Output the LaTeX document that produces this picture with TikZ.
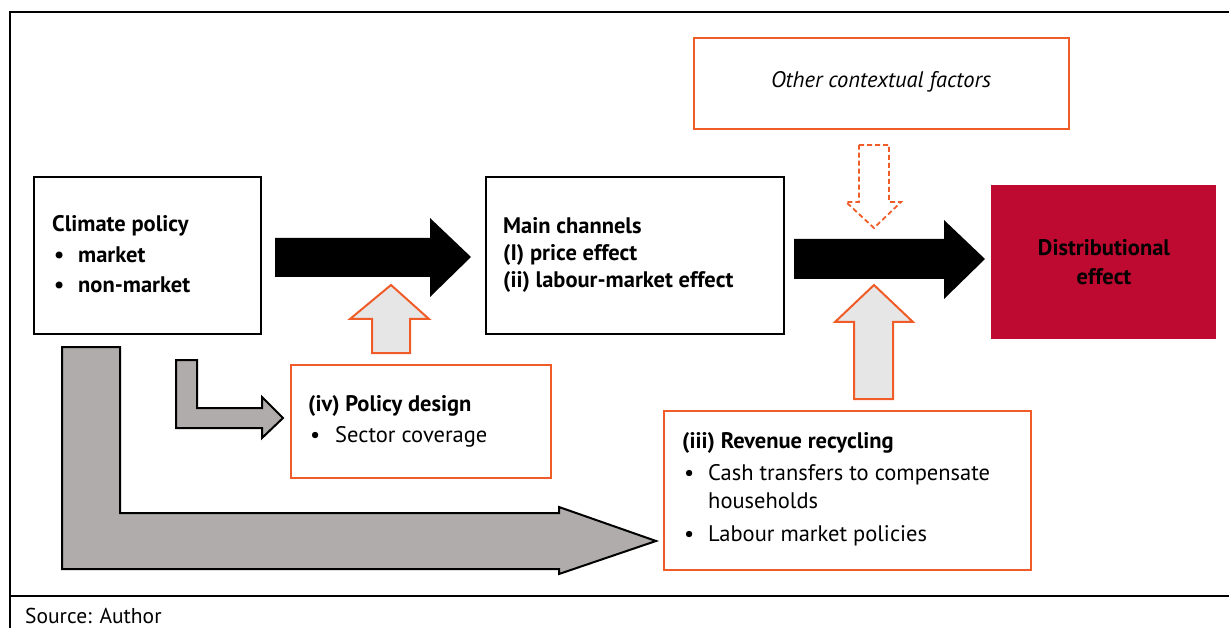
\documentclass[tikz,border=0pt]{standalone}
\usepackage{fontspec}
\setmainfont{PT Sans}
\definecolor{orng}{RGB}{240,92,40}
\definecolor{crim}{RGB}{190,10,48}
\definecolor{garrow}{RGB}{176,172,171}
\definecolor{lfill}{RGB}{230,230,230}
\tikzset{
  frame/.style={line width=2.5pt, black},
  blackbox/.style={draw=black, line width=2pt, fill=white, inner sep=0pt},
  orangebox/.style={draw=orng, line width=2pt, fill=white, inner sep=0pt},
  redbox/.style={fill=crim, inner sep=0pt},
  txt/.style={inner sep=0pt, font=\fontsize{22.5}{27}\selectfont},
  btxt/.style={inner sep=0pt, font=\fontsize{22.5}{27}\selectfont\bfseries},
  blackarrow/.style={fill=black},
  greyarrow/.style={fill=garrow, draw=black, line width=2pt, line join=miter},
  uparrow/.style={fill=lfill, draw=orng, line width=2pt, line join=miter},
  dasharrow/.style={fill=white, draw=orng, line width=1.8pt, dashed, dash pattern=on 5pt off 3pt},
}
\begin{document}
\begin{tikzpicture}[x=1pt,y=-1pt]
\useasboundingbox (0,0) rectangle (1229,628);
% frame
\draw[frame] (10,628) -- (10,12) -- (1229,12);
\draw[frame] (10,596) -- (1229,596);
\node[inner sep=0pt, font=\fontsize{21.5}{26}\selectfont, anchor=base west] (src) at (25,623) {Source: Author};

% boxes
\node[blackbox, minimum width=227pt, minimum height=157pt, anchor=north west] (cp) at (33,176) {};
\node[blackbox, minimum width=298pt, minimum height=157pt, anchor=north west] (mc) at (485,176) {};
\node[orangebox, minimum width=375pt, minimum height=91pt, anchor=north west] (oc) at (693,37) {};
\node[redbox, minimum width=225pt, minimum height=154pt, anchor=north west] (de) at (991,185) {};
\node[orangebox, minimum width=260pt, minimum height=113pt, anchor=north west] (pd) at (290,364) {};
\node[orangebox, minimum width=367pt, minimum height=159pt, anchor=north west] (rr) at (663,410) {};

% texts
\node[btxt, anchor=base west] (cpt) at (52,232) {Climate policy};
\node[btxt, anchor=base west] (cpb1) at (54,263) {\textbullet};
\node[btxt, anchor=base west] (cpm) at (78,263) {market};
\node[btxt, anchor=base west] (cpb2) at (54,293) {\textbullet};
\node[btxt, anchor=base west] (cpn) at (78,293) {non-market};

\node[btxt, anchor=base west] (mct) at (503,234) {Main channels};
\node[btxt, anchor=base west] (mc1) at (503,261) {(I) price effect};
\node[btxt, anchor=base west] (mc2) at (503,288) {(ii) labour-market effect};

\node[txt, anchor=center, font=\fontsize{22.5}{27}\selectfont\itshape] (oct) at (881,82) {Other contextual factors};

\node[btxt, anchor=center, align=center] (det) at (1104,262) {Distributional\\[2pt]effect};

\node[btxt, anchor=base west] (pdt) at (308,411) {(iv) Policy design};
\node[txt, anchor=base west] (pdb) at (310,442) {\textbullet};
\node[txt, anchor=base west] (pd1) at (335,442) {Sector coverage};

\node[btxt, anchor=base west] (rrt) at (682,448) {(iii) Revenue recycling};
\node[txt, anchor=base west] (rrb1) at (684,480) {\textbullet};
\node[txt, anchor=base west] (rr1) at (708,480) {Cash transfers to compensate};
\node[txt, anchor=base west] (rr1b) at (708,508) {households};
\node[txt, anchor=base west] (rrb2) at (684,541) {\textbullet};
\node[txt, anchor=base west] (rr2) at (708,541) {Labour market policies};

% black arrows
\fill[blackarrow] (275,238) -- (430,238) -- (430,218) -- (471,257) -- (430,297) -- (430,277) -- (275,277) -- cycle;
\fill[blackarrow] (794,239) -- (944,239) -- (944,220) -- (985,259) -- (944,299) -- (944,279) -- (794,279) -- cycle;

% up arrows
\draw[uparrow] (372,353) -- (372,319) -- (350,319) -- (391,285) -- (429,319) -- (410,319) -- (410,353) -- cycle;
\draw[uparrow] (854,399) -- (854,322) -- (835,322) -- (874,285) -- (913,322) -- (893,322) -- (893,399) -- cycle;

% dashed down arrow
\draw[dasharrow] (859,145) -- (889,145) -- (889,202) -- (901,202) -- (874,228) -- (846,202) -- (859,202) -- cycle;

% grey L arrows
\draw[greyarrow] (176,360) -- (197,360) -- (197,408) -- (262,408) -- (262,397) -- (283,418) -- (262,438) -- (262,428) -- (176,428) -- cycle;
\draw[greyarrow] (62,347) -- (120,347) -- (120,513) -- (559,513) -- (559,507) -- (656,541) -- (559,574) -- (559,569) -- (62,569) -- cycle;
\end{tikzpicture}
\end{document}
